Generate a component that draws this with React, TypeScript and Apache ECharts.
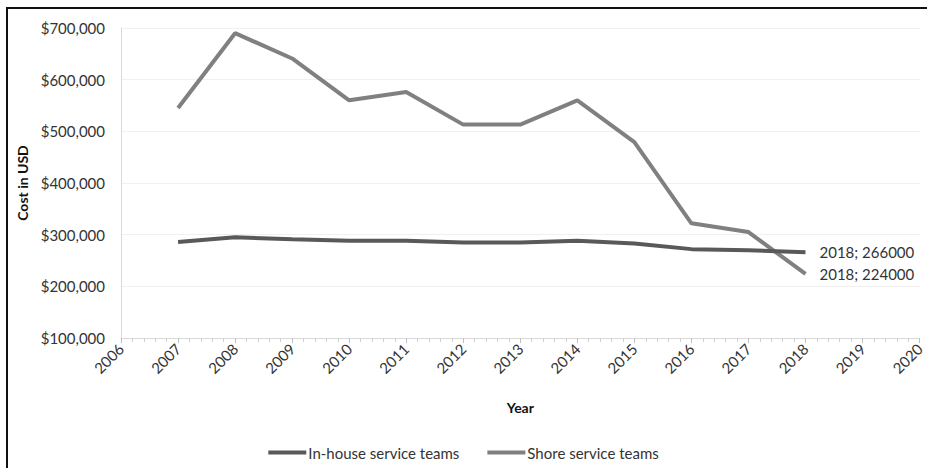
import React, { useEffect, useRef } from "react";
import * as echarts from "echarts";

const years = [2007, 2008, 2009, 2010, 2011, 2012, 2013, 2014, 2015, 2016, 2017, 2018];
const inHouse = [286000, 295000, 291000, 288000, 288000, 285000, 285000, 288000, 283000, 272000, 270000, 266000];
const shore = [545000, 690000, 641000, 560000, 576000, 513000, 513000, 560000, 479000, 322000, 305000, 224000];
const seriesNames = ["In-house service teams", "Shore service teams"];
const xTitle = "Year";
const yTitle = "Cost in USD";

const FONT = "Lato, 'Open Sans', sans-serif";

function pairs(vals: number[]) {
  return years.map((y, i) => [y, vals[i]]);
}

export default function App() {
  const ref = useRef<HTMLDivElement>(null);
  useEffect(() => {
    if (!ref.current) return;
    const chart = echarts.init(ref.current, undefined, { renderer: "svg" });
    const endLabel = {
      show: true,
      distance: 14,
      color: "#333",
      fontSize: 15,
      fontFamily: FONT,
      formatter: (p: any) => `${p.value[0]}; ${p.value[1]}`,
    };
    chart.setOption({
      animation: false,
      textStyle: { fontFamily: FONT },
      graphic: [
        {
          type: "rect",
          shape: { x: 7, y: 8, width: 1000, height: 1000 },
          style: { fill: "none", stroke: "#111", lineWidth: 2 },
          silent: true,
        },
      ],
      grid: { left: 121, right: 7, top: 28, bottom: 130 },
      legend: {
        bottom: 3,
        left: "center",
        itemWidth: 38,
        itemHeight: 4,
        itemGap: 28,
        icon: "rect",
        textStyle: { fontSize: 15, color: "#333", fontFamily: FONT, padding: [0, 0, 0, -3] },
        data: seriesNames,
      },
      xAxis: {
        type: "value",
        min: 2006,
        max: 2020,
        interval: 1,
        name: xTitle,
        nameLocation: "middle",
        nameGap: 62,
        nameTextStyle: { fontWeight: "bold", fontSize: 14, color: "#111", fontFamily: FONT },
        axisLine: { show: true, lineStyle: { color: "#d9d9d9", width: 1 } },
        axisTick: { show: true, length: 5, lineStyle: { color: "#bfbfbf" } },
        minorTick: { show: true, splitNumber: 5, length: 4, lineStyle: { color: "#d0d0d0" } },
        splitLine: { show: false },
        axisLabel: {
          rotate: 45,
          fontSize: 15,
          color: "#333",
          margin: 8,
          fontFamily: FONT,
          formatter: (v: number) => String(v),
        },
      },
      yAxis: {
        type: "value",
        min: 100000,
        max: 700000,
        interval: 100000,
        name: yTitle,
        nameLocation: "middle",
        nameGap: 85,
        nameTextStyle: { fontWeight: "bold", fontSize: 14, color: "#111", fontFamily: FONT },
        axisLine: { show: true, lineStyle: { color: "#d9d9d9", width: 1 } },
        axisTick: { show: false },
        splitLine: { show: true, lineStyle: { color: "#f0f0f0" } },
        axisLabel: {
          fontSize: 15,
          color: "#333",
          margin: 16,
          fontFamily: FONT,
          formatter: (v: number) => "$" + v.toLocaleString("en-US"),
        },
      },
      series: [
        {
          name: seriesNames[0],
          type: "line",
          data: pairs(inHouse),
          showSymbol: false,
          symbol: "none",
          lineStyle: { color: "#595959", width: 4 },
          itemStyle: { color: "#595959" },
          endLabel,
          z: 3,
        },
        {
          name: seriesNames[1],
          type: "line",
          data: pairs(shore),
          showSymbol: false,
          symbol: "none",
          lineStyle: { color: "#808080", width: 4 },
          itemStyle: { color: "#808080" },
          endLabel,
          z: 2,
        },
      ],
    });
    return () => chart.dispose();
  }, []);
  return <div ref={ref} style={{ width: 927, height: 468, position: "absolute", left: 0, top: 0 }} />;
}
